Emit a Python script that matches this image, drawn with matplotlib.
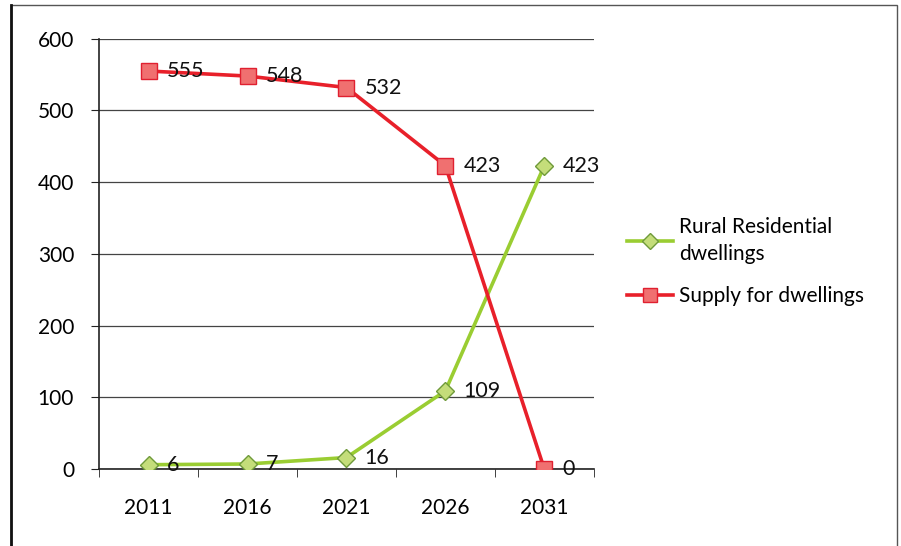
import matplotlib
matplotlib.use("Agg")
import matplotlib.pyplot as plt
from matplotlib.patches import Rectangle

years = ["2011", "2016", "2021", "2026", "2031"]
rural = [6, 7, 16, 109, 423]
supply = [555, 548, 532, 423, 0]
y_ticks = [0, 100, 200, 300, 400, 500, 600]

plt.rcParams["font.family"] = ["Lato", "DejaVu Sans"]

fig = plt.figure(figsize=(9.01, 5.46), dpi=100)
ax = fig.add_axes([0.110, 0.141, 0.549, 0.788])

x = list(range(len(years)))
green_line = "#9acd32"
green_face = "#c4dd7a"
green_edge = "#6f9a3a"
red_line = "#e8202a"
red_face = "#f07070"
red_edge = "#e02030"

ax.plot(x, rural, color=green_line, lw=2.6, marker="D", ms=9,
        mfc=green_face, mec=green_edge, mew=1.0, label="Rural Residential\ndwellings", zorder=3)
ax.plot(x, supply, color=red_line, lw=2.6, marker="s", ms=12,
        mfc=red_face, mec=red_edge, mew=1.0, label="Supply for dwellings", zorder=4)

for xi, v in zip(x, rural):
    ax.annotate(str(v), (xi, v), xytext=(13, 0), textcoords="offset points",
                va="center", ha="left", fontsize=15.5, color="#111111", zorder=5)
for xi, v in zip(x, supply):
    ax.annotate(str(v), (xi, v), xytext=(13, 0), textcoords="offset points",
                va="center", ha="left", fontsize=15.5, color="#111111", zorder=5)

ax.set_xlim(-0.5, 4.5)
ax.set_ylim(0, 600)
ax.set_yticks(y_ticks)
ax.set_xticks(x)
ax.set_xticklabels(years)
ax.set_xticks([i - 0.5 for i in range(len(years) + 1)], minor=True)
ax.tick_params(axis="x", which="major", length=0, pad=21, labelsize=15)
ax.tick_params(axis="x", which="minor", length=6, direction="out", color="#222222")
ax.tick_params(axis="y", length=6, direction="out", pad=12, labelsize=15, color="#222222")
ax.grid(axis="y", color="#444444", lw=0.9)
ax.set_axisbelow(True)
for s in ["top", "right"]:
    ax.spines[s].set_visible(False)
for s in ["left", "bottom"]:
    ax.spines[s].set_color("#222222")
    ax.spines[s].set_linewidth(1.2)

leg = fig.legend(loc="upper left", bbox_to_anchor=(0.675, 0.637), frameon=False,
                 fontsize=15, handlelength=2.2, handletextpad=0.3, labelspacing=1.05,
                 markerscale=0.85)
for t in leg.get_texts():
    t.set_linespacing(1.45)

# outer frame
fig.patches.append(Rectangle((0.012, -0.01), 0.984, 1.0, transform=fig.transFigure,
                             fill=False, edgecolor="#555555", lw=1.0))
fig.add_artist(plt.Line2D([0.012, 0.012], [0, 0.99], transform=fig.transFigure,
                          color="#111111", lw=2.0))

fig.savefig("out.png", dpi=100, facecolor="white")
